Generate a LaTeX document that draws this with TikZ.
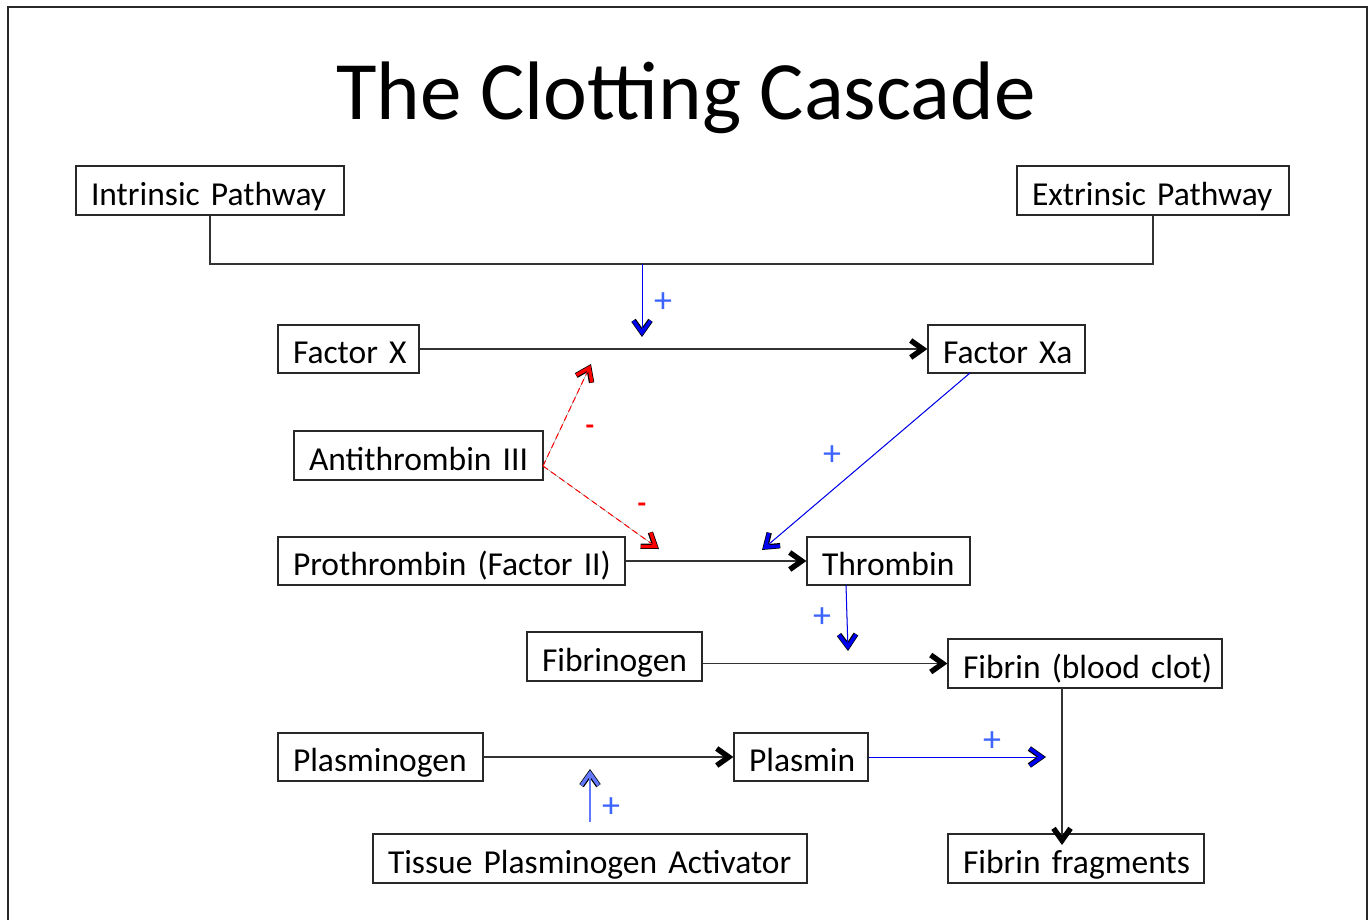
\documentclass[tikz,border=0pt]{standalone}
\usepackage{fontspec}
\setmainfont{Carlito}
\usetikzlibrary{arrows.meta}
\definecolor{plusblue}{RGB}{60,100,255}
\definecolor{lineblue}{RGB}{0,0,240}
\definecolor{lightblue}{RGB}{100,120,255}
\definecolor{boxgray}{RGB}{40,40,40}
\tikzset{
  tipb/.tip={Straight Barb[length=12pt,width=17pt,line width=3.4pt]},
  tipo/.tip={Straight Barb[length=12pt,width=17pt,line width=5.4pt]},
  box/.style={draw=boxgray, line width=1.2pt, inner xsep=15pt, inner ysep=0pt, align=left, font=\fontsize{33.5}{38}\selectfont, anchor=center, text height=31pt, text depth=2pt},
  conn/.style={draw=black!80, line width=1.2pt},
  blk/.style={conn, -{tipo[black]}},
  outl/.style={preaction={draw=black, line width=0.1pt, solid, shorten >=0pt, -tipo}, shorten >=1.3pt},
  blu/.style={outl, draw=lineblue, line width=1pt, -tipb},
  lblu/.style={outl, draw=lightblue, line width=1.5pt, -tipb},
  redd/.style={outl, draw=red, line width=1pt, dash pattern=on 6pt off 4pt, -tipb},
  plus/.style={text=plusblue, font=\fontsize{36}{38}\selectfont, inner sep=0pt},
  minus/.style={text=red, font=\fontsize{28}{30}\selectfont\bfseries, inner sep=0pt},
}
\newcommand{\bx}[6]{\node[box, minimum width=#4-#2, text width=#4-#2-30, minimum height=#5-#3] (#1) at ({(#2+#4)/2},{(#3+#5)/2}) {\makebox[0pt][l]{#6}};}
\begin{document}
\begin{tikzpicture}[x=1pt,y=-1pt]
\useasboundingbox (0,0) rectangle (1372,920);
\fill[white] (0,0) rectangle (1372,920);
\draw[boxgray, line width=1.5pt] (8,930) -- (8,7) -- (1367,7) -- (1367,930);
\node[font=\fontsize{83}{90}\selectfont] (title) at (686,98) {The Clotting Cascade};
% boxes
\bx{ip}{76}{166}{344}{215}{Intrinsic Pathway}
\bx{ep}{1017}{166}{1289}{215}{Extrinsic Pathway}
\bx{fx}{278}{325}{419}{373}{Factor X}
\bx{fxa}{928}{325}{1085}{373}{Factor Xa}
\bx{at}{294}{431}{543}{480}{Antithrombin III}
\bx{pt}{278}{537}{625}{585}{Prothrombin (Factor II)}
\bx{th}{807}{537}{970}{585}{Thrombin}
\bx{fg}{527}{632}{702}{681}{Fibrinogen}
\bx{fb}{948}{639}{1222}{688}{Fibrin (blood clot)}
\bx{pg}{278}{733}{483}{781}{Plasminogen}
\bx{pl}{734}{733}{868}{781}{Plasmin}
\bx{tpa}{373}{834}{807}{883}{Tissue Plasminogen Activator}
\bx{ff}{948}{834}{1204}{883}{Fibrin fragments}
% coordinates
\coordinate (ipb) at (210,264);
\coordinate (epb) at (1153,264);
\coordinate (j) at (642,264);
\coordinate (jx) at (642,337);
\coordinate (ax1) at (591,364);
\coordinate (ax2) at (659,549);
\coordinate (as) at (543,466);
\coordinate (xs) at (970,373);
\coordinate (xe) at (762,550);
\coordinate (ts) at (846,585);
\coordinate (te) at (848,651);
\coordinate (pe) at (1046,757);
\coordinate (tas) at (590,822);
\coordinate (tae) at (590,769);
\coordinate (fbs) at (1062,688);
\coordinate (ffe) at (1062,845);
% connectors
\draw[conn] (ip.south) -- (ipb) -- (epb) -- (ep.south);
\draw[blu] (j) -- (jx);
\node[plus] at (663,303) {+};
\draw[blk] (fx.east) -- (fxa.west);
\draw[redd] (as) -- (ax1);
\draw[redd] (as) -- (ax2);
\node[minus] at (590,430) {-};
\node[minus] at (642,508) {-};
\draw[blu] (xs) -- (xe);
\node[plus] at (832,456) {+};
\draw[blk] (pt.east) -- (th.west);
\draw[blu] (ts) -- (te);
\node[plus] at (822,618) {+};
\draw[blk] (fg.east |- fb.west) -- (fb.west);
\draw[blk] (fbs) -- (ffe);
\draw[blk] (pg.east) -- (pl.west);
\draw[blu] (pl.east) -- (pe);
\node[plus] at (992,742) {+};
\draw[lblu] (tas) -- (tae);
\node[plus] at (611,808) {+};
\end{tikzpicture}
\end{document}
